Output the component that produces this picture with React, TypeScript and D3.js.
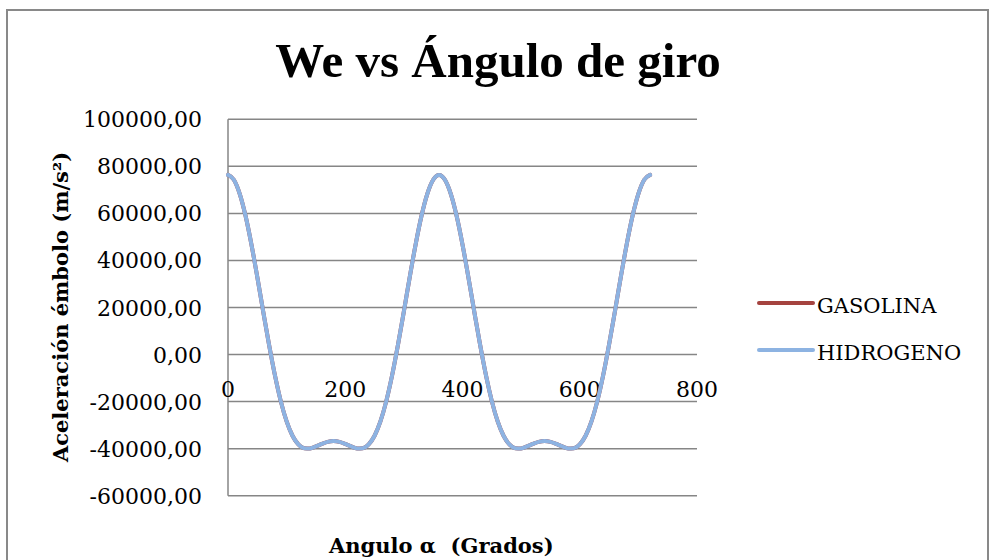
import React from "react";
import * as d3 from "d3";

const angles: number[] = [
  0, 10, 20, 30, 40, 50, 60, 70, 80, 90, 100, 110, 120, 130, 140, 150, 160, 170, 180,
  190, 200, 210, 220, 230, 240, 250, 260, 270, 280, 290, 300, 310, 320, 330, 340, 350, 360,
  370, 380, 390, 400, 410, 420, 430, 440, 450, 460, 470, 480, 490, 500, 510, 520, 530, 540,
  550, 560, 570, 580, 590, 600, 610, 620, 630, 640, 650, 660, 670, 680, 690, 700, 710, 720,
];

const gasolina: number[] = [
  76356, 74300, 68310, 58880, 46760, 32920, 18380, 4180, -8780, -19800, -28420, -34510, -38180,
  -39800, -39890, -39080, -37990, -37100, -36760,
  -37100, -37990, -39080, -39890, -39800, -38180, -34510, -28420, -19800, -8780, 4180, 18380,
  32920, 46760, 58880, 68310, 74300, 76356,
  74300, 68310, 58880, 46760, 32920, 18380, 4180, -8780, -19800, -28420, -34510, -38180,
  -39800, -39890, -39080, -37990, -37100, -36760,
  -37100, -37990, -39080, -39890, -39800, -38180, -34510, -28420, -19800, -8780, 4180, 18380,
  32920, 46760, 58880, 68310, 74300, 76356,
];

const hidrogeno: number[] = [
  76356, 74300, 68310, 58880, 46760, 32920, 18380, 4180, -8780, -19800, -28420, -34510, -38180,
  -39800, -39890, -39080, -37990, -37100, -36760,
  -37100, -37990, -39080, -39890, -39800, -38180, -34510, -28420, -19800, -8780, 4180, 18380,
  32920, 46760, 58880, 68310, 74300, 76356,
  74300, 68310, 58880, 46760, 32920, 18380, 4180, -8780, -19800, -28420, -34510, -38180,
  -39800, -39890, -39080, -37990, -37100, -36760,
  -37100, -37990, -39080, -39890, -39800, -38180, -34510, -28420, -19800, -8780, 4180, 18380,
  32920, 46760, 58880, 68310, 74300, 76356,
];

const yTicks: number[] = [100000, 80000, 60000, 40000, 20000, 0, -20000, -40000, -60000];
const xTicks: number[] = [0, 200, 400, 600, 800];
const seriesNames: string[] = ["GASOLINA", "HIDROGENO"];
const seriesColors: string[] = ["#A5433F", "#8DB3E2"];

const title = "We vs Ángulo de giro";
const yTitle = "Aceleración émbolo (m/s²)";
const xTitle = "Angulo α  (Grados)";

export default function App() {
  const W = 989;
  const H = 560;
  const x = d3.scaleLinear().domain([0, 800]).range([228, 697]);
  const y = d3.scaleLinear().domain([-60000, 100000]).range([495.7, 119.3]);
  const fmt = (v: number) => v.toFixed(2).replace(".", ",");
  const line = d3
    .line<number>()
    .x((_, i) => x(angles[i]))
    .y((d) => y(d))
    .curve(d3.curveMonotoneX);
  const series = [gasolina, hidrogeno];
  const serif = "'DejaVu Serif', serif";

  return (
    <svg
      width={W}
      height={H}
      style={{ position: "absolute", left: 0, top: 0, background: "#fff" }}
    >
      <rect x={7} y={10} width={981} height={570} fill="#fff" stroke="#898989" strokeWidth={2} />
      <text
        x={498}
        y={77}
        textAnchor="middle"
        fontFamily="'Liberation Serif', serif"
        fontWeight="bold"
        fontSize={49}
        fill="#000"
      >
        {title}
      </text>
      {yTicks.map((t) => (
        <g key={t}>
          <line x1={x(0)} x2={x(800)} y1={y(t)} y2={y(t)} stroke="#868686" strokeWidth={1.5} />
          <text x={202} y={y(t) + 8} textAnchor="end" fontFamily={serif} fontSize={22} fill="#000">
            {fmt(t)}
          </text>
        </g>
      ))}
      <line x1={x(0)} x2={x(0)} y1={y(100000)} y2={y(-60000)} stroke="#868686" strokeWidth={1.5} />
      {xTicks.map((t) => (
        <text key={t} x={x(t)} y={397} textAnchor="middle" fontFamily={serif} fontSize={22} fill="#000">
          {t}
        </text>
      ))}
      {series.map((s, i) => (
        <path key={i} d={line(s) || ""} fill="none" stroke={seriesColors[i]} strokeWidth={4} strokeLinejoin="round" strokeLinecap="round" />
      ))}
      {seriesNames.map((n, i) => (
        <g key={n}>
          <line x1={759} x2={813} y1={303 + i * 47} y2={303 + i * 47} stroke={seriesColors[i]} strokeWidth={4} strokeLinecap="round" />
          <text x={817} y={313 + i * 47} fontFamily={serif} fontSize={21} fill="#000">
            {n}
          </text>
        </g>
      ))}
      <text
        transform="translate(68,307) rotate(-90)"
        textAnchor="middle"
        fontFamily={serif}
        fontWeight="bold"
        fontSize={21}
        fill="#000"
      >
        {yTitle}
      </text>
      <text
        x={329}
        y={553}
        fontFamily={serif}
        fontWeight="bold"
        fontSize={21}
        fill="#000"
        style={{ whiteSpace: "pre" }}
      >
        {xTitle}
      </text>
    </svg>
  );
}
